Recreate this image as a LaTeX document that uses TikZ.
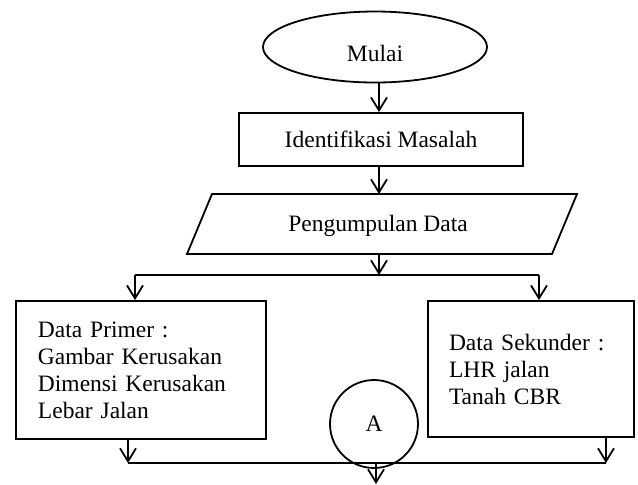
\documentclass[tikz,border=0pt]{standalone}
\usepackage{fontspec}
\setmainfont{Liberation Serif}
\usetikzlibrary{shapes.geometric,arrows.meta}
\begin{document}
\begin{tikzpicture}[x=0.5pt,y=-0.5pt, line width=0.9pt,
  every node/.style={font=\fontsize{11.75}{13.5}\selectfont},
  arr/.style={-{Straight Barb[length=6.5pt,width=8pt,line width=0.9pt]}},
  box/.style={draw, rectangle, inner sep=0pt}]
\useasboundingbox (0,0) rectangle (638,484);

\node[draw, ellipse, minimum width=112pt, minimum height=35.5pt, inner sep=0pt,
      text height=14pt, text depth=0pt] (mulai) at (375,47) {Mulai};
\node[box, minimum width=142pt, minimum height=26.5pt] (idm) at (381,139.5) {Identifikasi Masalah};

\coordinate (p1) at (212,194);
\coordinate (p2) at (577,194);
\coordinate (p3) at (552,254);
\coordinate (p4) at (187,254);
\draw (p1) -- (p2) -- (p3) -- (p4) -- cycle;
\node (pd) at (378,226) {Pengumpulan Data};
\coordinate (pdtop) at (379,194);
\coordinate (pdbot) at (379,254);

\draw[arr] (pdtop |- mulai.south) -- (pdtop |- idm.north);
\draw[arr] (pdtop |- idm.south) -- (pdtop);
\coordinate (split) at (379,275);
\draw[arr] (pdbot) -- (split);

\node[box, minimum width=125pt, minimum height=69pt, text width=103pt, align=left] (dp) at (141,370)
  {Data Primer :\\Gambar Kerusakan\\Dimensi Kerusakan\\Lebar Jalan};
\node[box, minimum width=103pt, minimum height=68pt, text width=82pt, align=left] (ds) at (531,369)
  {Data Sekunder :\\LHR jalan\\Tanah CBR};

\coordinate (sl) at (135,275);
\coordinate (sr) at (539,275);
\draw (sl) -- (sr);
\draw[arr] (sl) -- (sl |- dp.north);
\draw[arr] (sr) -- (sr |- ds.north);

\coordinate (jl) at (128,463);
\coordinate (jr) at (606,463);
\coordinate (jc) at (376,463);
\coordinate (jend) at (376,484);
\draw[arr] (jl |- dp.south) -- (jl);
\draw[arr] (jr |- ds.south) -- (jr);
\draw (jl) -- (jr);
\draw[arr] (jc) -- (jend);

\node[draw, circle, minimum size=44pt, inner sep=0pt] (a) at (374,424) {A};
\end{tikzpicture}
\end{document}
